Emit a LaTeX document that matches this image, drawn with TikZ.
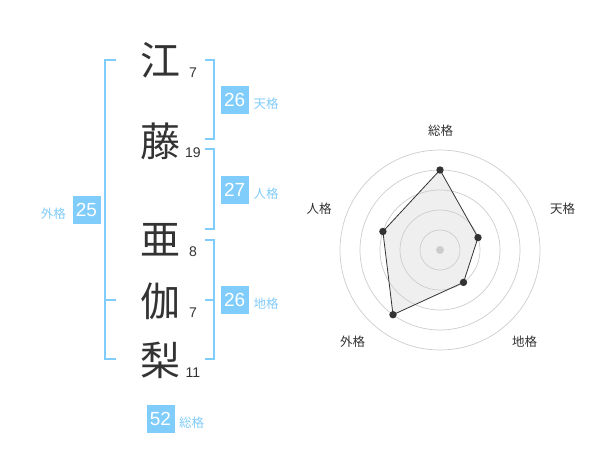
\documentclass[tikz,border=0pt]{standalone}
\usepackage{fontspec}
\setmainfont{Liberation Sans}
\newfontfamily\jp{Noto Sans CJK JP}
\definecolor{sky}{RGB}{128,204,250}
\definecolor{ink}{RGB}{51,51,51}
\definecolor{ring}{RGB}{205,205,205}
\definecolor{area}{RGB}{239,239,239}
\begin{document}
\begin{tikzpicture}[x=1pt,y=-1pt,
  kanji/.style={inner sep=0pt,text=ink,font=\jp\fontsize{40}{40}\selectfont},
  num/.style={inner sep=0pt,text=ink,font=\fontsize{14}{14}\selectfont},
  valbox/.style={fill=sky,text=white,minimum size=28pt,inner sep=0pt,font=\fontsize{19}{19}\selectfont},
  lab/.style={inner sep=0pt,text=sky,font=\jp\fontsize{12.5}{12.5}\selectfont},
  bracket/.style={draw=sky,line width=2pt},
  rlab/.style={inner sep=0pt,text=ink,font=\jp\fontsize{12.5}{12.5}\selectfont},
  dot/.style={circle,inner sep=0pt,minimum size=7.5pt}]
\useasboundingbox (0,0) rectangle (600,470);
% kanji
\node[kanji] (k1) at (160,60) {江};
\node[kanji] (k2) at (160,141) {藤};
\node[kanji] (k3) at (160,240) {亜};
\node[kanji] (k4) at (160,301) {伽};
\node[kanji] (k5) at (160,360) {梨};
\node[num] (n1) at (193,72.7) {7};
\node[num] (n2) at (193,152.7) {19};
\node[num] (n3) at (193,252) {8};
\node[num] (n4) at (193,313) {7};
\node[num] (n5) at (193,372.7) {11};
% brackets
\draw[bracket] (205,60) -- (214,60) -- (214,139) -- (205,139);
\draw[bracket] (205,149) -- (214,149) -- (214,229) -- (205,229);
\draw[bracket] (205,240) -- (214,240) -- (214,359) -- (205,359);
\draw[bracket] (205,300) -- (214,300);
\draw[bracket] (116,60) -- (105,60) -- (105,359) -- (116,359);
\draw[bracket] (105,300) -- (116,300);
% value boxes
\node[valbox] (ten) at (234.7,100.3) {26};
\node[lab,anchor=west] (tenl) at (253.5,103.5) {天格};
\node[valbox] (jin) at (234.7,190.3) {27};
\node[lab,anchor=west] (jinl) at (253.5,193.5) {人格};
\node[valbox] (chi) at (234.7,300.3) {26};
\node[lab,anchor=west] (chil) at (253.5,303.5) {地格};
\node[valbox] (gai) at (86.5,210.3) {25};
\node[lab] (gail) at (53.3,213.5) {外格};
\node[valbox] (sou) at (160.5,419) {52};
\node[lab,anchor=west] (soul) at (179,422.5) {総格};
% radar
\coordinate (c) at (440,250);
\node[dot] (p1) at (440,170) {};
\node[dot] (p2) at (478.0,237.6) {};
\node[dot] (p3) at (463.5,282.4) {};
\node[dot] (p4) at (393.0,314.7) {};
\node[dot] (p5) at (382.9,231.5) {};
\fill[area] (p1.center) -- (p2.center) -- (p3.center) -- (p4.center) -- (p5.center) -- cycle;
\foreach \r in {20,40,60,80,100} \draw[ring,line width=0.7pt] (c) circle[radius=\r];
\draw[ink,line width=0.8pt] (p1.center) -- (p2.center) -- (p3.center) -- (p4.center) -- (p5.center) -- cycle;
\foreach \p in {p1,p2,p3,p4,p5} \fill[ink] (\p) circle[radius=3.7];
\fill[ring] (c) circle[radius=4];
\node[rlab] (r1) at (440.5,130.5) {総格};
\node[rlab] (r2) at (562.5,208.5) {天格};
\node[rlab] (r3) at (524.5,342) {地格};
\node[rlab] (r4) at (352.5,342) {外格};
\node[rlab] (r5) at (319,208.5) {人格};
\end{tikzpicture}
\end{document}
